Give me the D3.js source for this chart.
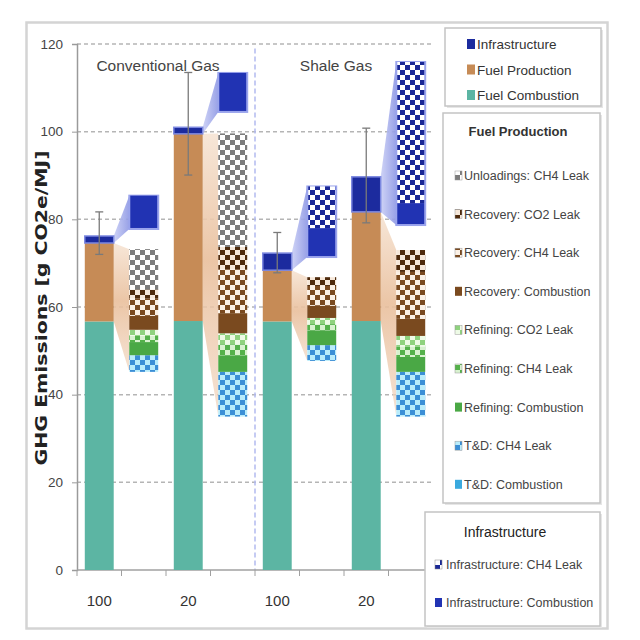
<!DOCTYPE html>
<html><head><meta charset="utf-8">
<script src="https://cdn.jsdelivr.net/npm/d3@7"></script>
<style>
body{margin:0;background:#fff;}
svg{display:block;}
text{font-family:"Liberation Sans",Arial,sans-serif;}
</style>
</head><body><svg id="c" width="640" height="640"></svg>
<script>
// ---------- DATA ----------
const categories = ["C100","C100d","C20","C20d","S100","S100d","S20","S20d"];
const mainCats = ["C100","C20","S100","S20"];
const detailCats = ["C100d","C20d","S100d","S20d"];
const tickLabels = ["100","20","100","20"];
const groupTitles = ["Conventional Gas","Shale Gas"];
const yTicks = [0,20,40,60,80,100,120];

const fuelCombustion = [56.7,56.8,56.7,56.8];
const fuelProduction = [17.9,42.7,11.7,24.9];
const infrastructure = [1.6,1.5,3.9,8.0];
const errLow  = [72.0,90.1,67.8,79.2];
const errHigh = [81.7,113.5,77.0,100.8];

// fuel production breakdown (floating stack, bottom -> top)
const fpBase        = [45.2,35.0,47.7,35.0];
const tdCombustion  = [0,0,0,0];
const tdCH4Leak     = [3.8,10.2,3.6,10.2];
const refCombustion = [3.0,3.8,3.4,3.4];
const refCH4Leak    = [1.4,2.5,1.4,2.4];
const refCO2Leak    = [1.4,2.5,1.4,2.4];
const recCombustion = [3.2,4.6,2.8,3.9];
const recCH4Leak    = [4.0,10.0,4.5,10.7];
const recCO2Leak    = [2.0,5.1,2.0,5.0];
const unloadCH4Leak = [9.2,25.9,0,0];

// infrastructure breakdown (floating stack)
const infBase       = [77.8,104.5,71.4,78.7];
const infCombustion = [7.6,8.9,6.6,5.0];
const infCH4Leak    = [0,0,9.5,32.2];

const legend1Labels = ["Infrastructure","Fuel Production","Fuel Combustion"];
const legend2Title = "Fuel Production";
const legend2Labels = ["Unloadings: CH4 Leak","Recovery: CO2 Leak","Recovery: CH4 Leak","Recovery: Combustion","Refining: CO2 Leak","Refining: CH4 Leak","Refining: Combustion","T&D: CH4 Leak","T&D: Combustion"];
const legend3Title = "Infrastructure";
const legend3Labels = ["Infrastructure: CH4 Leak","Infrastructure: Combustion"];
const yTitle = "GHG Emissions [g CO2e/MJ]";

// ---------- STYLE ----------
const C = {
  comb:"#5cb5a3", prod:"#c68b56", infra:"#1c2b9e",
  recComb:"#7a4a1f", refComb:"#4aa845", tdComb:"#3aa9de", infComb:"#2133b3"
};
const svg = d3.select("#c");
const defs = svg.append("defs");
function checker(id, bg, fg){
  const p = defs.append("pattern").attr("id",id).attr("patternUnits","userSpaceOnUse")
    .attr("width",10).attr("height",10);
  p.append("rect").attr("width",10).attr("height",10).attr("fill",bg);
  p.append("rect").attr("x",0).attr("y",0).attr("width",5).attr("height",5).attr("fill",fg);
  p.append("rect").attr("x",5).attr("y",5).attr("width",5).attr("height",5).attr("fill",fg);
}
checker("pUnload","#ffffff","#7c7c7c");
checker("pRecCO2","#f6e8da","#4e2a0c");
checker("pRecCH4","#fbf1e6","#7a4a20");
checker("pRefCO2","#eefbe6","#8fd27e");
checker("pRefCH4","#d8f2cf","#54b14a");
checker("pTdCH4","#b9ecfb","#3b8fd6");
checker("pInfCH4","#ffffff","#1a2896");

function grad(id, stops, vertical){
  const g = defs.append("linearGradient").attr("id",id)
    .attr("x1",0).attr("y1",0).attr("x2",vertical?0:1).attr("y2",vertical?1:0);
  stops.forEach(s=>g.append("stop").attr("offset",s[0]).attr("stop-color",s[1]).attr("stop-opacity",s[2]));
}
grad("gProd",[[0,"#f6e4d4",0.9],[0.45,"#e9bf9c",0.9],[1,"#f1d6c0",0.7]],true);
grad("gInf",[[0,"#c9cef5",0.9],[1,"#8d97e4",0.9]],false);

// ---------- FRAME ----------
svg.append("rect").attr("x",26.5).attr("y",22.5).attr("width",581).attr("height",606)
  .attr("fill","none").attr("stroke","#d4d4d4").attr("stroke-width",2.5);

// ---------- SCALES ----------
const x = d3.scaleBand().domain(categories).range([77,433]).paddingInner(0.35).paddingOuter(0.175);
const y = d3.scaleLinear().domain([0,120]).range([570,44]);
const step = x.step();
const bw = x.bandwidth();

// grid
svg.append("g").selectAll("line").data(yTicks.filter(d=>d>0)).join("line")
  .attr("x1",77).attr("x2",433).attr("y1",d=>y(d)).attr("y2",d=>y(d))
  .attr("stroke","#b5b5b5").attr("stroke-width",1.5).attr("stroke-dasharray","4,3");

// divider
svg.append("line").attr("x1",77+4*step).attr("x2",77+4*step).attr("y1",y(119)).attr("y2",y(0))
  .attr("stroke","#b3bbef").attr("stroke-width",1.5).attr("stroke-dasharray","5,3");

// y axis
const yAxis = d3.axisLeft(y).tickValues(yTicks).tickSize(5).tickPadding(9);
const gy = svg.append("g").attr("transform","translate(77,0)").call(yAxis);
gy.select(".domain").attr("stroke","#9a9a9a").attr("stroke-width",1.5);
gy.selectAll(".tick line").attr("stroke","#9a9a9a");
gy.selectAll("text").attr("font-size",13.5).attr("fill","#444")
  .style("font-family",'"Liberation Sans",Arial,sans-serif');

// x axis: line + boundary ticks
svg.append("line").attr("x1",77).attr("x2",433).attr("y1",570).attr("y2",570)
  .attr("stroke","#a0a0a0").attr("stroke-width",1.5);
svg.append("g").selectAll("line").data(d3.range(categories.length+1)).join("line")
  .attr("x1",i=>77+i*step).attr("x2",i=>77+i*step).attr("y1",570).attr("y2",576)
  .attr("stroke","#a0a0a0");
svg.append("g").selectAll("text").data(mainCats).join("text")
  .attr("x",d=>x(d)+bw/2).attr("y",606).attr("text-anchor","middle")
  .attr("font-size",15).attr("fill","#333").text((d,i)=>tickLabels[i]);

// y title
svg.append("text").attr("transform","translate(47,308) rotate(-90)")
  .attr("text-anchor","middle").attr("font-size",16).attr("font-weight","bold")
  .attr("fill","#222").style("font-family",'"DejaVu Sans","Liberation Sans",sans-serif')
  .attr("textLength",315).attr("lengthAdjust","spacingAndGlyphs").text(yTitle);

// group titles
svg.append("text").attr("x",158).attr("y",71).attr("text-anchor","middle")
  .attr("font-size",15.5).attr("fill","#444").text(groupTitles[0]);
svg.append("text").attr("x",336).attr("y",71).attr("text-anchor","middle")
  .attr("font-size",15.5).attr("fill","#444").text(groupTitles[1]);

// ---------- CONNECTOR WEDGES ----------
const fpComps = [tdCombustion,tdCH4Leak,refCombustion,refCH4Leak,refCO2Leak,recCombustion,recCH4Leak,recCO2Leak,unloadCH4Leak];
const fpFills = [C.tdComb,"url(#pTdCH4)",C.refComb,"url(#pRefCH4)","url(#pRefCO2)",C.recComb,"url(#pRecCH4)","url(#pRecCO2)","url(#pUnload)"];
const infComps = [infCombustion,infCH4Leak];
const infFills = [C.infComb,"url(#pInfCH4)"];

mainCats.forEach((c,i)=>{
  const xr = x(c)+bw, xl = x(detailCats[i]);
  const fpTop = fpBase[i] + d3.sum(fpComps,a=>a[i]);
  const infTop = infBase[i] + d3.sum(infComps,a=>a[i]);
  const pTop = fuelCombustion[i]+fuelProduction[i];
  svg.append("path").attr("d",d3.line()([[xr,y(fuelCombustion[i])],[xr,y(pTop)],[xl,y(fpTop)],[xl,y(fpBase[i])]])+"Z")
    .attr("fill","url(#gProd)");
  svg.append("path").attr("d",d3.line()([[xr,y(pTop)],[xr,y(pTop+infrastructure[i])],[xl,y(infTop)],[xl,y(infBase[i])]])+"Z")
    .attr("fill","url(#gInf)");
});

// ---------- MAIN BARS ----------
mainCats.forEach((c,i)=>{
  const segs = [[0,fuelCombustion[i],C.comb],
    [fuelCombustion[i],fuelCombustion[i]+fuelProduction[i],C.prod],
    [fuelCombustion[i]+fuelProduction[i],fuelCombustion[i]+fuelProduction[i]+infrastructure[i],C.infra]];
  segs.forEach((s,k)=>{
    svg.append("rect").attr("x",x(c)).attr("width",bw)
      .attr("y",y(s[1])).attr("height",y(s[0])-y(s[1])).attr("fill",s[2])
      .attr("stroke",k===2?"#7c88e0":"none").attr("stroke-width",k===2?1.5:0);
  });
});

// ---------- DETAIL BARS ----------
detailCats.forEach((c,i)=>{
  let b = fpBase[i];
  fpComps.forEach((a,k)=>{
    if(a[i]>0){
      svg.append("rect").attr("x",x(c)).attr("width",bw).attr("y",y(b+a[i])).attr("height",y(b)-y(b+a[i])).attr("fill",fpFills[k]);
    }
    b += a[i];
  });
  let bi = infBase[i];
  const infTop = infBase[i] + d3.sum(infComps,a=>a[i]);
  svg.append("rect").attr("x",x(c)-1).attr("width",bw+2).attr("y",y(infTop)-1).attr("height",y(infBase[i])-y(infTop)+2)
    .attr("fill","#9aa4ec");
  infComps.forEach((a,k)=>{
    if(a[i]>0){
      svg.append("rect").attr("x",x(c)+1).attr("width",bw-2).attr("y",y(bi+a[i])).attr("height",y(bi)-y(bi+a[i])-(k===0?1:0)).attr("fill",infFills[k]);
    }
    bi += a[i];
  });
});

// ---------- ERROR BARS ----------
mainCats.forEach((c,i)=>{
  const cx = x(c)+bw/2;
  const g = svg.append("g").attr("stroke","#7a7a7a").attr("stroke-width",1.3);
  g.append("line").attr("x1",cx).attr("x2",cx).attr("y1",y(errLow[i])).attr("y2",y(errHigh[i]));
  g.append("line").attr("x1",cx-4).attr("x2",cx+4).attr("y1",y(errLow[i])).attr("y2",y(errLow[i]));
  g.append("line").attr("x1",cx-4).attr("x2",cx+4).attr("y1",y(errHigh[i])).attr("y2",y(errHigh[i]));
});

// ---------- LEGENDS ----------
function box(x0,y0,w,h){
  svg.append("rect").attr("x",x0+2).attr("y",y0+2).attr("width",w).attr("height",h).attr("fill","#e6e6e6");
  svg.append("rect").attr("x",x0).attr("y",y0).attr("width",w).attr("height",h)
    .attr("fill","#fff").attr("stroke","#c4c4c4").attr("stroke-width",1.5);
}
// legend 1
box(445,28,156,78);
const l1Fill = [C.infra,C.prod,C.comb];
legend1Labels.forEach((t,i)=>{
  const yy = 45 + i*25.5;
  svg.append("rect").attr("x",467).attr("y",yy-6).attr("width",8).attr("height",10).attr("fill",l1Fill[i]);
  svg.append("text").attr("x",477).attr("y",yy+4).attr("font-size",13.5).attr("fill","#333").text(t);
});
// legend 2
box(443,113,157,390);
svg.append("text").attr("x",518).attr("y",136).attr("text-anchor","middle").attr("font-size",13)
  .attr("font-weight","bold").attr("fill","#333").text(legend2Title);
const l2Fill = ["url(#pUnload)","url(#pRecCO2)","url(#pRecCH4)",C.recComb,"url(#pRefCO2)","url(#pRefCH4)",C.refComb,"url(#pTdCH4)",C.tdComb];
legend2Labels.forEach((t,i)=>{
  const yy = 176 + i*38.6;
  svg.append("rect").attr("x",455).attr("y",yy-5).attr("width",7).attr("height",9)
    .attr("fill",l2Fill[i]).attr("stroke",i===3||i===6||i===8?"none":"#999").attr("stroke-width",0.5);
  svg.append("text").attr("x",464).attr("y",yy+4).attr("font-size",12.5).attr("fill","#444").text(t);
});
// legend 3
box(425,512,175,114);
svg.append("text").attr("x",505).attr("y",537).attr("text-anchor","middle").attr("font-size",14)
  .attr("fill","#222").text(legend3Title);
const l3Fill = ["url(#pInfCH4)",C.infComb];
legend3Labels.forEach((t,i)=>{
  const yy = 565 + i*38;
  svg.append("rect").attr("x",435).attr("y",yy-5).attr("width",7).attr("height",9).attr("fill",l3Fill[i])
    .attr("stroke",i===0?"#888":"none").attr("stroke-width",0.5);
  svg.append("text").attr("x",446).attr("y",yy+4).attr("font-size",12.5).attr("fill","#444").text(t);
});
</script>
</body></html>
